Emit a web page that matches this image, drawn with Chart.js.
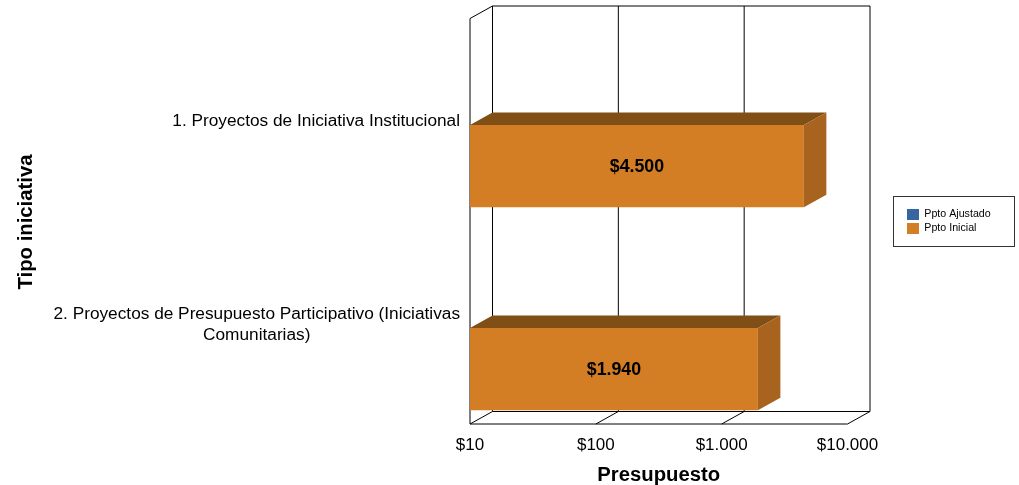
<!DOCTYPE html>
<html>
<head>
<meta charset="utf-8">
<title>Presupuesto por tipo de iniciativa</title>
<script src="https://cdn.jsdelivr.net/npm/chart.js@4"></script>
<style>
  html, body { margin: 0; padding: 0; background: #fff; overflow: hidden; }
  canvas { display: block; }
</style>
</head>
<body>
<canvas id="myChart" width="1019" height="485"></canvas>
<script>
var categories = [
  ['1. Proyectos de Iniciativa Institucional'],
  ['2. Proyectos de Presupuesto Participativo (Iniciativas', 'Comunitarias)']
]
var ppto_ajustado = [null, null]
var ppto_inicial = [4500, 1940]
var x_ticks = [10, 100, 1000, 10000]

var FONT = '"Liberation Sans", Arial, sans-serif'
var ORANGE = '#d37e24', ORANGE_TOP = '#7f4f15', ORANGE_SIDE = '#a8641e'
var BLUE = '#36659f'

// depth of the fake 3D box
var dx = 22.5, dy = -12.5
// the front plane floor sits 5.5px above the bottom of the category bands
var floor_shift = 5.5

function money(v) {
  return '$' + String(v).replace(/\B(?=(\d{3})+$)/g, '.')
}

var box3d = {
  id: 'box3d',
  afterLayout: function(chart) {
    // legend placed by hand, the box around it is drawn below
    var l = chart.legend
    l.left = 904; l.right = 1010; l.top = 206; l.bottom = 300
  },
  beforeDatasetsDraw: function(chart) {
    var c = chart.ctx, a = chart.chartArea, x = chart.scales.x
    var top = a.top - floor_shift + 0.5, bottom = a.bottom - floor_shift

    c.save()
    c.lineWidth = 1
    c.strokeStyle = '#000'
    c.beginPath()
    // left wall
    c.moveTo(a.left, bottom); c.lineTo(a.left, top); c.lineTo(a.left + dx, top + dy)
    // back wall top and floor back edge
    c.moveTo(a.left + dx, top + dy); c.lineTo(a.right + dx, top + dy)
    c.moveTo(a.left + dx, bottom + dy); c.lineTo(a.right + dx, bottom + dy)
    // floor front edge
    c.moveTo(a.left, bottom); c.lineTo(a.right, bottom)
    x_ticks.forEach(function(v) {
      var px = x.getPixelForValue(v)
      c.moveTo(px + dx, top + dy); c.lineTo(px + dx, bottom + dy)
      c.moveTo(px + dx, bottom + dy); c.lineTo(px, bottom)
    })
    c.stroke()
    c.restore()
  },
  afterDatasetsDraw: function(chart) {
    var c = chart.ctx
    chart.getDatasetMeta(1).data.forEach(function(bar, i) {
      var p = bar.getProps(['x', 'y', 'base', 'height'], true)
      var t = p.y - p.height / 2, b = p.y + p.height / 2
      c.fillStyle = ORANGE_TOP
      c.beginPath()
      c.moveTo(p.base, t); c.lineTo(p.base + dx, t + dy); c.lineTo(p.x + dx, t + dy); c.lineTo(p.x, t)
      c.closePath(); c.fill()
      c.fillStyle = ORANGE_SIDE
      c.beginPath()
      c.moveTo(p.x, t); c.lineTo(p.x + dx, t + dy); c.lineTo(p.x + dx, b + dy); c.lineTo(p.x, b)
      c.closePath(); c.fill()

      c.fillStyle = '#000'
      c.font = 'bold 17.8px ' + FONT
      c.textAlign = 'center'
      c.textBaseline = 'middle'
      c.fillText(money(ppto_inicial[i]), (p.base + p.x) / 2, p.y + 0.5)
    })
  },
  afterDraw: function(chart) {
    var c = chart.ctx, y = chart.scales.y
    c.save()
    c.fillStyle = '#000'
    c.textBaseline = 'middle'

    // category labels: block flush right, lines centred inside the block
    c.font = '17.25px ' + FONT
    c.textAlign = 'center'
    categories.forEach(function(lines, i) {
      var widest = Math.max.apply(null, lines.map(function(s) { return c.measureText(s).width }))
      var cy = y.getPixelForTick(i) - floor_shift + 2
      lines.forEach(function(s, n) {
        c.fillText(s, 460 - widest / 2, cy + (n - (lines.length - 1) / 2) * 20.5)
      })
    })

    // y title follows the walls, not the bands
    c.translate(26.5, (chart.chartArea.top + chart.chartArea.bottom) / 2 - floor_shift + 1)
    c.rotate(-Math.PI / 2)
    c.font = 'bold 20.3px ' + FONT
    c.fillText('Tipo iniciativa', 0, 0)
    c.restore()

    // legend frame
    c.save()
    c.strokeStyle = '#333'
    c.lineWidth = 1
    c.strokeRect(893.5, 196.5, 121, 50)
    c.restore()
  }
}

var ctx = document.getElementById('myChart')

var chart = new Chart(ctx, {
  type: 'bar',
  plugins: [box3d],
  data: {
    labels: categories,
    datasets: [{
      label: 'Ppto Ajustado',
      data: ppto_ajustado,
      backgroundColor: BLUE
    }, {
      label: 'Ppto Inicial',
      data: ppto_inicial,
      backgroundColor: ORANGE
    }]
  },
  options: {
    indexAxis: 'y',
    responsive: false,
    animation: false,
    layout: { padding: { top: 23.5, right: 171.5 } },
    datasets: { bar: { categoryPercentage: 0.81, barPercentage: 1 } },
    scales: {
      x: {
        type: 'logarithmic',
        min: 10,
        max: 10000,
        afterFit: function(s) { s.height = 55.5 },
        afterBuildTicks: function(s) {
          s.ticks = x_ticks.map(function(v) { return { value: v } })
        },
        grid: { display: false, drawTicks: false },
        border: { display: false },
        ticks: {
          autoSkip: false,
          maxRotation: 0,
          padding: 6,
          color: '#000',
          font: { family: FONT, size: 17 },
          callback: function(v) { return money(v) }
        },
        title: {
          display: true,
          text: 'Presupuesto',
          color: '#000',
          padding: { top: 7, bottom: -3 },
          font: { family: FONT, size: 20.3, weight: 'bold' }
        }
      },
      y: {
        afterFit: function(s) { s.width = 470 },
        grid: { display: false },
        border: { display: false },
        ticks: { display: false }
      }
    },
    plugins: {
      tooltip: { enabled: false },
      legend: {
        position: 'chartArea',
        align: 'start',
        labels: {
          boxWidth: 12,
          boxHeight: 11,
          padding: 3,
          color: '#000',
          font: { family: FONT, size: 10.67 }
        }
      }
    }
  }
})
</script>
</body>
</html>
